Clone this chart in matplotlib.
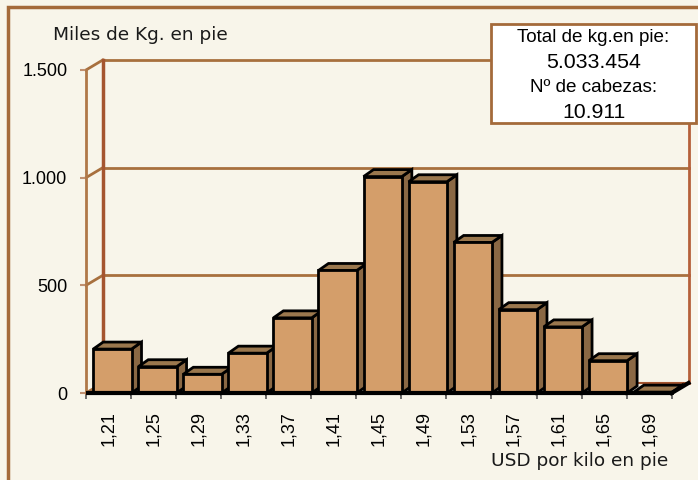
import matplotlib
matplotlib.use("Agg")
import matplotlib.pyplot as plt
from matplotlib.patches import Polygon, Rectangle
from matplotlib.ticker import FixedLocator, FixedFormatter, NullFormatter

# ---- data ----
categories = ["1,21", "1,25", "1,29", "1,33", "1,37", "1,41", "1,45",
              "1,49", "1,53", "1,57", "1,61", "1,65", "1,69"]
values = [204, 122, 87, 185, 349, 569, 1005, 981, 699, 387, 307, 150, 4]
y_ticks = [0, 500, 1000, 1500]
y_tick_labels = ["0", "500", "1.000", "1.500"]
y_label = "Miles de Kg. en pie"
x_label = "USD por kilo en pie"
box_lines = ["Total de kg.en pie:", "5.033.454", "Nº de cabezas:", "10.911"]

# ---- style ----
BG = "#F8F5EA"
FRONT = "#D49E6A"
SIDE = "#8A6844"
TOP = "#9A774D"
GRID = "#A8703E"
EDGE_DARK = "#A5552F"
FRAME = "#A46A3A"

W, H = 698, 480
fig = plt.figure(figsize=(W / 100, H / 100), dpi=100, facecolor=BG)

x0_px, x1_px = 86, 671.7
y0_px, y1_px = 393, 70
ax = fig.add_axes([x0_px / W, (H - y0_px) / H, (x1_px - x0_px) / W, (y0_px - y1_px) / H])
ax.set_facecolor("none")
n = len(categories)
ax.set_xlim(-0.5, n - 0.5)
ax.set_ylim(0, 1500)

px_x = (x1_px - x0_px) / n
px_y = (y0_px - y1_px) / 1500.0

wdx = 16.8 / px_x
wdy = 10.0 / px_y
bdx = 10.0 / px_x
bdy = 7.0 / px_y

# ---- walls / gridlines ----
for v in y_ticks:
    ax.plot([-0.5, -0.5 + wdx], [v, v + wdy], color=GRID, lw=2, clip_on=False, zorder=1)
    if v > 0:
        ax.plot([-0.5 + wdx, n - 0.5 + wdx], [v + wdy, v + wdy], color=GRID, lw=2,
                clip_on=False, zorder=1)
ax.plot([-0.5 + wdx, n - 0.5 + wdx], [wdy, wdy], color=EDGE_DARK, lw=1.5, clip_on=False, zorder=1)
ax.plot([-0.5 + wdx, -0.5 + wdx], [wdy, 1500 + wdy], color=EDGE_DARK, lw=2.5, clip_on=False, zorder=1)
ax.plot([n - 0.5 + wdx, n - 0.5 + wdx], [wdy, 1500 + wdy], color="#B5603A", lw=2, clip_on=False, zorder=1)

# ---- bars ----
bars = ax.bar([i + 0.085 for i in range(n)], values, width=0.85, color=FRONT,
              edgecolor="black", linewidth=2, clip_on=False)
for i, rect in enumerate(bars):
    x_l = rect.get_x()
    x_r = x_l + rect.get_width()
    h = rect.get_height()
    z = 3 + i * 0.01
    side = Polygon([[x_r, 0], [x_r + bdx, bdy], [x_r + bdx, h + bdy], [x_r, h]],
                   closed=True, facecolor=SIDE, edgecolor="black", lw=2, joinstyle="miter",
                   clip_on=False, zorder=z)
    top = Polygon([[x_l, h], [x_l + bdx, h + bdy], [x_r + bdx, h + bdy], [x_r, h]],
                  closed=True, facecolor=TOP, edgecolor="black", lw=2, joinstyle="miter",
                  clip_on=False, zorder=z)
    ax.add_patch(side)
    ax.add_patch(top)
    rect.set_zorder(z + 0.001)

ax.plot([-0.5, n - 0.5], [0, 0], color="black", lw=3, clip_on=False, zorder=5, solid_capstyle="butt")
ax.plot([n - 0.5, n - 0.5 + wdx], [0, wdy], color="black", lw=3, clip_on=False, zorder=5)

# ---- axes styling ----
for s in ["top", "right", "bottom"]:
    ax.spines[s].set_visible(False)
ax.spines["left"].set_color("#B07848")
ax.spines["left"].set_linewidth(2)
ax.spines["left"].set_zorder(2)

ax.yaxis.set_major_locator(FixedLocator(y_ticks))
ax.yaxis.set_major_formatter(FixedFormatter(y_tick_labels))
ax.tick_params(axis="y", length=4.5, width=1.5, color="#C09070", pad=9,
               labelsize=13, labelcolor="black")

ax.xaxis.set_major_locator(FixedLocator(list(range(n))))
ax.xaxis.set_major_formatter(FixedFormatter(categories))
ax.xaxis.set_minor_locator(FixedLocator([i - 0.5 for i in range(n + 1)]))
ax.xaxis.set_minor_formatter(NullFormatter())
ax.tick_params(axis="x", which="major", length=0, pad=13, labelsize=13, labelrotation=90)
ax.tick_params(axis="x", which="minor", length=4, width=1.2, color="#555555")
for lab in ax.get_xticklabels() + ax.get_yticklabels():
    lab.set_family("Liberation Sans")
for lab in ax.get_xticklabels():
    lab.set_verticalalignment("top")

# ---- texts ----
fig.text(53 / W, 1 - 40.5 / H, y_label, fontsize=13.3, family="DejaVu Sans",
         color="#1a1a1a", ha="left", va="baseline")
fig.text(668 / W, 1 - 466 / H, x_label, fontsize=13.3, family="DejaVu Sans",
         color="#1a1a1a", ha="right", va="baseline")

bx0, by0, bx1, by1 = 491, 24, 696, 123
fig.add_artist(Rectangle((bx0 / W, 1 - by1 / H), (bx1 - bx0) / W, (by1 - by0) / H,
                         transform=fig.transFigure, facecolor="white",
                         edgecolor=FRAME, lw=2, zorder=10))
cx = (bx0 + bx1) / 2 / W
baselines = [42, 68, 92, 118]
sizes = [13.6, 15.3, 13.6, 15.3]
for txt, b, s in zip(box_lines, baselines, sizes):
    fig.text(cx, 1 - b / H, txt, fontsize=s, family="Liberation Sans", ha="center",
             va="baseline", color="black", zorder=11)

fig.add_artist(Rectangle((8 / W, -0.05), 1.1, 1 - 7 / H + 0.05, transform=fig.transFigure,
                         facecolor="none", edgecolor=FRAME, lw=2.5, zorder=0))

fig.savefig("out.png", dpi=100, facecolor=BG)
